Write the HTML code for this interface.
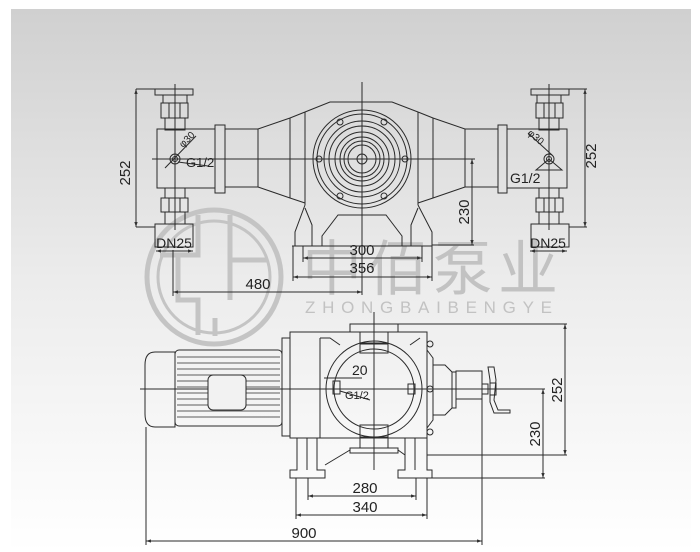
<!DOCTYPE html>
<html><head><meta charset="utf-8"><style>
html,body{margin:0;padding:0;background:#fff;}
body{width:700px;height:552px;overflow:hidden;}
svg{display:block;}
text{font-family:"Liberation Sans",Arial,sans-serif;fill:#222;}
</style></head><body>
<svg width="700" height="552" viewBox="0 0 700 552" xmlns="http://www.w3.org/2000/svg">
<defs>
<linearGradient id="bg" x1="0" y1="0" x2="0" y2="1">
<stop offset="0" stop-color="#d0d0d0"/><stop offset="0.5" stop-color="#ececec"/><stop offset="1" stop-color="#ffffff"/>
</linearGradient>
<marker id="a" viewBox="0 0 6 6" refX="6" refY="3" markerWidth="5" markerHeight="5" orient="auto-start-reverse"><path d="M0,1 L6,3 L0,5z" fill="#333"/></marker>
</defs>
<rect x="0" y="0" width="700" height="552" fill="#fff"/>
<rect x="11" y="9" width="680" height="543" fill="url(#bg)"/>

<!-- watermark -->
<g fill="none" stroke="#c4c4c4" stroke-width="5">
<circle cx="214" cy="277" r="67"/>
<circle cx="214" cy="277" r="56" stroke-width="3"/>
<path d="M198,215 V255 H160 M178,255 V300 H198 V335 M230,215 V300 M230,260 H268 M198,300 V335 M215,318 V336"/>
</g>
<text x="302" y="290" font-size="60" style="fill:#c2c2c2;font-family:'Liberation Sans','Noto Sans CJK SC',sans-serif" textLength="256">中佰泵业</text>
<text x="305" y="313" font-size="17" style="fill:#c2c2c2" textLength="252" letter-spacing="5">ZHONGBAIBENGYE</text>

<g fill="none" stroke="#2a2a2a" stroke-width="1">
<!-- TOP VIEW -->
<line x1="362" y1="82" x2="362" y2="295"/>
<line x1="152" y1="159" x2="475" y2="159"/>
<!-- left valve -->
<rect x="155" y="89" width="38" height="6"/>
<rect x="163" y="95" width="24" height="8"/>
<rect x="161" y="103" width="27" height="15"/>
<line x1="169" y1="103" x2="169" y2="118"/><line x1="180" y1="103" x2="180" y2="118"/>
<rect x="165" y="118" width="20" height="12"/>
<rect x="157" y="129" width="58" height="59"/>
<rect x="165" y="188" width="20" height="10"/>
<rect x="161" y="198" width="27" height="14"/>
<line x1="169" y1="198" x2="169" y2="212"/><line x1="180" y1="198" x2="180" y2="212"/>
<rect x="165" y="212" width="20" height="12"/>
<rect x="155" y="224" width="38" height="23"/>
<line x1="175" y1="84" x2="175" y2="230"/>
<circle cx="175" cy="159" r="5"/><circle cx="175" cy="159" r="2.5"/>
<rect x="215" y="125" width="10" height="68"/>
<rect x="225" y="129" width="33" height="58"/>
<!-- right valve -->
<rect x="531" y="89" width="38" height="6"/>
<rect x="537" y="95" width="24" height="8"/>
<rect x="536" y="103" width="27" height="15"/>
<line x1="544" y1="103" x2="544" y2="118"/><line x1="555" y1="103" x2="555" y2="118"/>
<rect x="539" y="118" width="20" height="12"/>
<rect x="507" y="129" width="60" height="59"/>
<rect x="539" y="188" width="20" height="10"/>
<rect x="536" y="198" width="27" height="14"/>
<line x1="544" y1="198" x2="544" y2="212"/><line x1="555" y1="198" x2="555" y2="212"/>
<rect x="539" y="212" width="20" height="12"/>
<rect x="531" y="224" width="38" height="23"/>
<line x1="549" y1="84" x2="549" y2="230"/>
<circle cx="549" cy="159" r="5"/><circle cx="549" cy="159" r="2.5"/>
<path d="M536,170 L549,159 L562,170 Z"/>
<rect x="498" y="125" width="9" height="68"/>
<rect x="465" y="129" width="33" height="58"/>
<!-- body -->
<path d="M258,129 L290,118 L305,112 M258,187 L290,198 L305,203"/>
<path d="M465,129 L433,118 L418,112 M465,187 L433,198 L418,203"/>
<line x1="258" y1="129" x2="258" y2="187"/><line x1="465" y1="129" x2="465" y2="187"/>
<path d="M290,118 V198 M433,118 V198"/>
<path d="M305,112 L330,102 H392 L418,112"/>
<line x1="305" y1="112" x2="305" y2="205"/><line x1="418" y1="112" x2="418" y2="205"/>
<!-- feet -->
<path d="M305,205 L295,232 V246 H303 V255 M418,205 L432,232 V246 H422 V255"/>
<path d="M292,246 H432"/>
<path d="M305,208 L312,225 V246 M418,208 L411,225 V246"/>
<path d="M322,246 V236 L338,215 H386 L402,236 V246"/>
<!-- circles -->
<circle cx="362" cy="159" r="49"/>
<circle cx="362" cy="159" r="45"/>
<circle cx="362" cy="159" r="38"/>
<circle cx="362" cy="159" r="33"/>
<circle cx="362" cy="159" r="27"/>
<circle cx="362" cy="159" r="22"/>
<circle cx="362" cy="159" r="18"/>
<circle cx="362" cy="159" r="14"/>
<circle cx="362" cy="159" r="5"/>
<circle cx="319" cy="159" r="3"/><circle cx="405" cy="159" r="3"/>
<circle cx="340" cy="122" r="3"/><circle cx="384" cy="122" r="3"/>
<circle cx="340" cy="196" r="3"/><circle cx="384" cy="196" r="3"/>
<!-- top dims -->
<line x1="136" y1="89" x2="155" y2="89"/><line x1="136" y1="227" x2="155" y2="227"/>
<line x1="136" y1="89" x2="136" y2="227" marker-start="url(#a)" marker-end="url(#a)"/>
<line x1="569" y1="89" x2="587" y2="89"/><line x1="569" y1="227" x2="587" y2="227"/>
<line x1="585" y1="89" x2="585" y2="227" marker-start="url(#a)" marker-end="url(#a)"/>
<line x1="432" y1="245" x2="474" y2="245"/>
<line x1="472" y1="159" x2="472" y2="245" marker-start="url(#a)" marker-end="url(#a)"/>
<line x1="303" y1="246" x2="303" y2="262"/><line x1="422" y1="246" x2="422" y2="262"/>
<line x1="303" y1="258" x2="422" y2="258" marker-start="url(#a)" marker-end="url(#a)"/>
<line x1="293" y1="246" x2="293" y2="281"/><line x1="432" y1="246" x2="432" y2="281"/>
<line x1="293" y1="277" x2="432" y2="277" marker-start="url(#a)" marker-end="url(#a)"/>
<line x1="173" y1="250" x2="173" y2="296"/>
<line x1="173" y1="292" x2="362" y2="292" marker-start="url(#a)" marker-end="url(#a)"/>
<line x1="156" y1="251" x2="193" y2="251" marker-start="url(#a)" marker-end="url(#a)"/>
<line x1="530" y1="251" x2="567" y2="251" marker-start="url(#a)" marker-end="url(#a)"/>
<line x1="165" y1="168" x2="196" y2="136"/>
<line x1="178" y1="162" x2="208" y2="166"/>
<line x1="552" y1="155" x2="528" y2="133"/>

<!-- BOTTOM VIEW -->
<line x1="374" y1="312" x2="374" y2="470"/>
<line x1="140" y1="389" x2="545" y2="389"/>
<!-- motor -->
<path d="M175,352 H155 Q145,352 145,365 V414 Q145,427 155,427 H175 Z"/>
<rect x="175" y="350" width="107" height="76" rx="4"/>
<g stroke-width="0.8">
<line x1="177" y1="357" x2="280" y2="357"/><line x1="177" y1="363" x2="280" y2="363"/><line x1="177" y1="369" x2="280" y2="369"/>
<line x1="177" y1="375" x2="280" y2="375"/><line x1="177" y1="381" x2="280" y2="381"/><line x1="177" y1="387" x2="280" y2="387"/>
<line x1="177" y1="393" x2="280" y2="393"/><line x1="177" y1="399" x2="280" y2="399"/><line x1="177" y1="405" x2="280" y2="405"/>
<line x1="177" y1="411" x2="280" y2="411"/><line x1="177" y1="417" x2="280" y2="417"/>
</g>
<rect x="208" y="375" width="38" height="35" rx="5" fill="#f2f2f2"/>
<rect x="282" y="338" width="8" height="98"/>
<!-- pump body -->
<rect x="290" y="332" width="137" height="106"/>
<line x1="320" y1="338" x2="320" y2="438"/>
<path d="M320,338 H330 L340,345 M420,338 L410,345"/>
<rect x="350" y="324" width="48" height="8"/>
<rect x="360" y="332" width="28" height="12"/>
<circle cx="374" cy="389" r="48"/>
<circle cx="374" cy="389" r="40"/>
<rect x="360" y="343" width="28" height="10"/>
<rect x="360" y="425" width="28" height="12"/>
<rect x="350" y="448" width="48" height="5"/>
<line x1="360" y1="437" x2="360" y2="448"/><line x1="388" y1="437" x2="388" y2="448"/>
<rect x="333" y="381" width="7" height="13"/>
<rect x="408" y="384" width="7" height="10"/>
<line x1="324" y1="378" x2="362" y2="378"/>
<line x1="340" y1="391" x2="370" y2="400"/>
<circle cx="430" cy="344" r="3"/><circle cx="430" cy="389" r="3"/><circle cx="430" cy="432" r="3"/>
<!-- right gearbox -->
<path d="M427,350 L433,358 V420 L427,428"/>
<path d="M433,365 H445 L452,372 V408 L445,415 H433"/>
<rect x="452" y="372" width="4" height="36"/>
<rect x="456" y="371" width="26" height="28"/>
<rect x="482" y="384" width="6" height="10"/>
<path d="M488,367 L494,367 L496,380 L494,400 L498,410 H510 V413 H494 L490,402 L490,380 Z"/>
<rect x="490" y="383" width="6" height="12"/>
<!-- feet -->
<path d="M297,438 V470 H290 V478 H325 V470 H317 V438"/>
<line x1="307" y1="438" x2="307" y2="470"/>
<path d="M427,438 V470 H432 V478 H398 V470 H405 V438"/>
<line x1="415" y1="438" x2="415" y2="470"/>
<path d="M325,465 L350,450 M398,450 L405,455"/>
</g>
<g fill="none" stroke="#2a2a2a" stroke-width="1">
<!-- bottom dims -->
<line x1="398" y1="324" x2="567" y2="324"/>
<line x1="427" y1="455" x2="567" y2="455"/>
<line x1="565" y1="324" x2="565" y2="455" marker-start="url(#a)" marker-end="url(#a)"/>
<line x1="427" y1="478" x2="545" y2="478"/>
<line x1="543" y1="389" x2="543" y2="478" marker-start="url(#a)" marker-end="url(#a)"/>
<line x1="308" y1="478" x2="308" y2="500"/><line x1="416" y1="478" x2="416" y2="500"/>
<line x1="308" y1="496" x2="416" y2="496" marker-start="url(#a)" marker-end="url(#a)"/>
<line x1="296" y1="478" x2="296" y2="519"/><line x1="427" y1="478" x2="427" y2="519"/>
<line x1="296" y1="515" x2="427" y2="515" marker-start="url(#a)" marker-end="url(#a)"/>
<line x1="146" y1="427" x2="146" y2="545"/><line x1="482" y1="399" x2="482" y2="545"/>
<line x1="146" y1="541" x2="482" y2="541" marker-start="url(#a)" marker-end="url(#a)"/>
</g>

<!-- labels -->
<text x="130" y="173" font-size="15" transform="rotate(-90 130 173)" text-anchor="middle">252</text>
<text x="591" y="156" font-size="15" transform="rotate(-90 591 156)" text-anchor="middle" dy="5">252</text>
<text x="469" y="212" font-size="15" transform="rotate(-90 469 212)" text-anchor="middle">230</text>
<text x="186" y="167" font-size="13">G1/2</text>
<text x="510" y="183" font-size="14">G1/2</text>
<text x="183" y="148" font-size="10" transform="rotate(-45 183 148)">φ30</text>
<text x="527" y="134" font-size="10" transform="rotate(40 527 134)">φ30</text>
<text x="174" y="248" font-size="14" text-anchor="middle">DN25</text>
<text x="548" y="248" font-size="14" text-anchor="middle">DN25</text>
<text x="362" y="255" font-size="15" text-anchor="middle">300</text>
<text x="362" y="273" font-size="15" text-anchor="middle">356</text>
<text x="258" y="289" font-size="15" text-anchor="middle">480</text>
<text x="352" y="375" font-size="14">20</text>
<text x="345" y="399" font-size="11">G1/2</text>
<text x="562" y="390" font-size="15" transform="rotate(-90 562 390)" text-anchor="middle">252</text>
<text x="540" y="434" font-size="15" transform="rotate(-90 540 434)" text-anchor="middle">230</text>
<text x="365" y="493" font-size="15" text-anchor="middle">280</text>
<text x="365" y="512" font-size="15" text-anchor="middle">340</text>
<text x="304" y="538" font-size="15" text-anchor="middle">900</text>
</svg>
</body></html>
